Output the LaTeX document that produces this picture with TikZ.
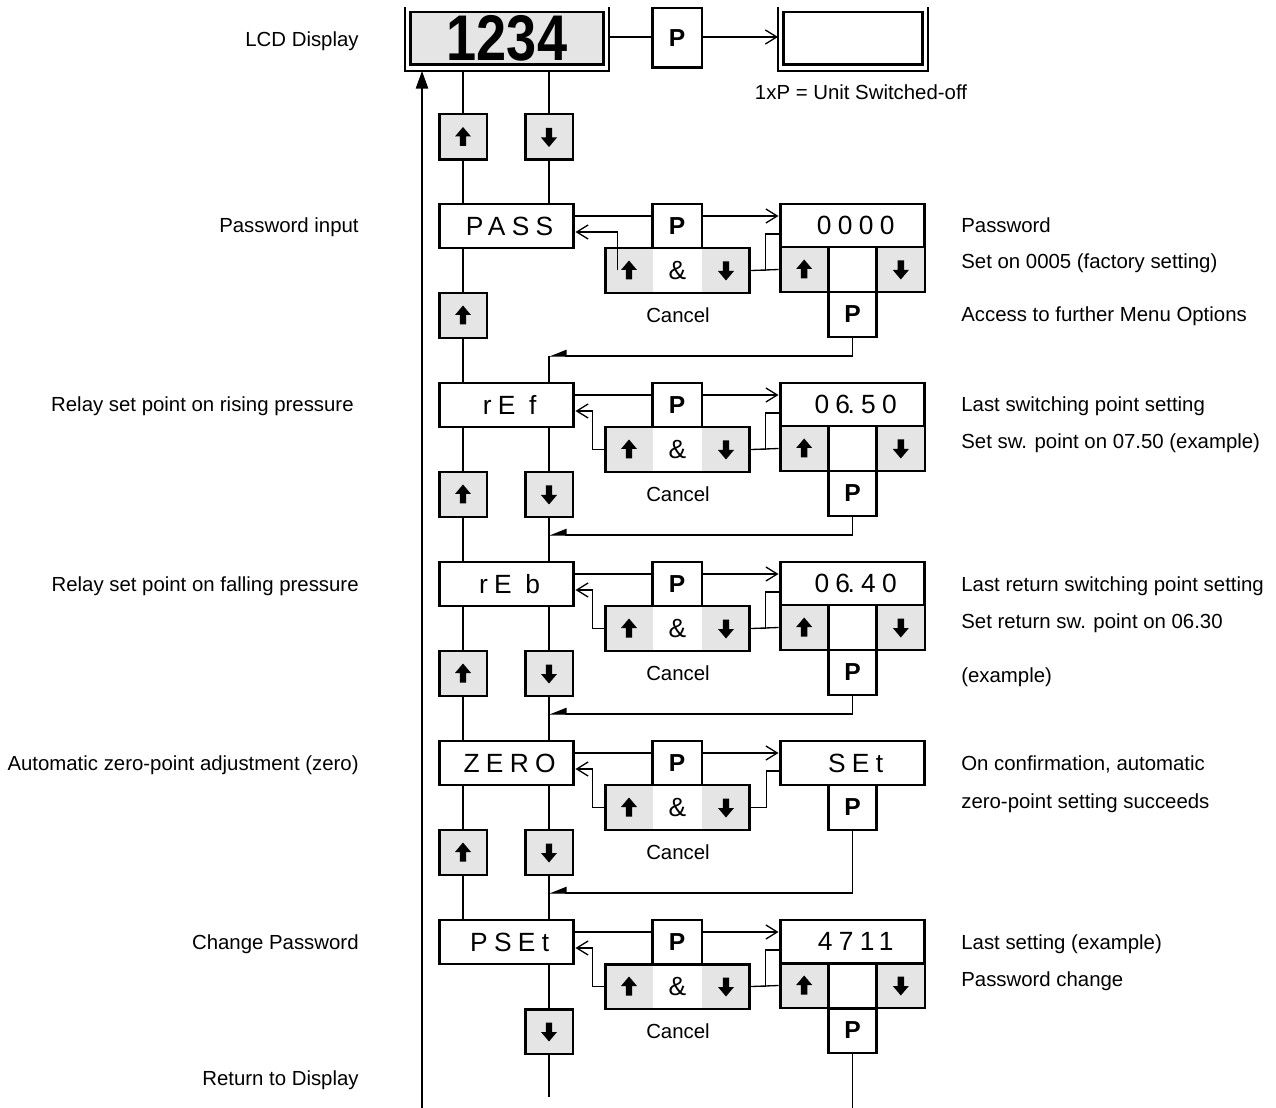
\documentclass[tikz,border=0pt]{standalone}
\usepackage{fontspec}
\setmainfont{Liberation Sans}
\newfontfamily\dispfont[LetterSpace=24]{Liberation Sans}
\usepackage{graphicx}
\usetikzlibrary{arrows.meta}
\definecolor{keygray}{gray}{0.9}
\tikzset{
  thickbox/.style={draw, line width=1.7pt, inner sep=0pt},
  dispbox/.style={thickbox, fill=white},
  keybox/.style={thickbox, fill=keygray},
  cellg/.style={fill=keygray, inner sep=0pt},
  pbox/.style={thickbox, fill=white, font=\fontsize{14}{16}\selectfont\bfseries},
  lbl/.style={inner sep=0pt, font=\fontsize{11.6}{14}\selectfont},
  conn/.style={line width=0.75pt},
  oarrow/.style={conn, -{Straight Barb[length=6.5pt,width=8pt]}},
  farrow/.style={conn, -{Triangle[harpoon,swap,length=9pt,width=7pt]}},
  retarrow/.style={line width=0.85pt, -{Triangle[length=10pt,width=7pt]}},
  uparr/.pic={\fill (0,-10) -- (8,-0.5) -- (3.2,-0.5) -- (3.2,9) -- (-3.2,9) -- (-3.2,-0.5) -- (-8,-0.5) -- cycle;},
  dnarr/.pic={\fill (0,10) -- (8,0.5) -- (3.2,0.5) -- (3.2,-9) -- (-3.2,-9) -- (-3.2,0.5) -- (-8,0.5) -- cycle;},
}
\newcommand\disptxt[1]{{\fontsize{15}{17}\dispfont #1\kern-0.24em}}
\newcommand\menurow[3]{%
\begin{scope}[shift={(0,#2)}]
 \node[dispbox, minimum width=2.7cm, minimum height=0.88cm] (#1L) at (506.5,22) {\disptxt{#3}};
 \node[cellg, minimum width=0.96cm, minimum height=0.9cm] (#1Au) at (629,66.5) {};
 \node[cellg, minimum width=0.96cm, minimum height=0.9cm] (#1Ad) at (726,66.5) {};
 \node[thickbox, minimum width=2.9cm, minimum height=0.9cm, font=\fontsize{15}{17}\selectfont] (#1A) at (677.5,66.5) {\&};
 \node[pbox, minimum width=1cm, minimum height=0.88cm] (#1P) at (677,22) {P};
 \pic at (#1Au) {uparr};
 \pic at (#1Ad) {dnarr};
 \node[lbl] (#1C) at (678,111) {Cancel};
 \coordinate (#1t) at (0,12);
 \coordinate (#1r) at (0,28);
 \coordinate (#1s) at (0,30);
 \coordinate (#1ret) at (549,152);
 \draw[conn] (#1L.east |- #1t) -- (#1P.west |- #1t);
\end{scope}}
\newcommand\rightbox[3]{%
\begin{scope}[shift={(0,#2)}]
 \node[dispbox, minimum width=2.9cm, minimum height=0.86cm] (#1R) at (852.5,21.5) {\disptxt{#3}};
 \node[keybox, minimum width=0.9667cm, minimum height=0.9cm] (#1Ru) at (804.17,65.5) {};
 \node[dispbox, minimum width=0.9667cm, minimum height=0.9cm] (#1Rm) at (852.5,65.5) {};
 \node[keybox, minimum width=0.9667cm, minimum height=0.9cm] (#1Rd) at (900.83,65.5) {};
 \node[pbox, minimum width=0.9667cm, minimum height=0.9cm] (#1RP) at (852.5,110.5) {P};
 \pic at (#1Ru) {uparr};
 \pic at (#1Rd) {dnarr};
 \draw[oarrow] (#1P.east |- #1t) -- (#1R.west |- #1t);
 \draw[conn] (#1A.east) -- (#1Ru.west);
 \draw[conn] (#1A.east) -- ++(14,0) |- (#1R.west |- #1s);
\end{scope}}
\begin{document}
\begin{tikzpicture}[x=0.02cm,y=-0.02cm]
\useasboundingbox (0,0) rectangle (1276,1108);
% ---------- top: LCD ----------
\node[keybox, minimum width=3.88cm, minimum height=1.06cm] (lcd) at (507,38.5) {\scalebox{0.88}[1.05]{\fontsize{35}{37}\selectfont\bfseries 1234}};
\draw[line width=1.7pt] (405,7) -- (405,71) -- (609,71) -- (609,7);
\coordinate (lcdfr) at (507,71);
\coordinate (lcdR) at (609,37);
\node[pbox, minimum width=1cm, minimum height=1.2cm] (ptop) at (677,38) {P};
\node[dispbox, minimum width=2.8cm, minimum height=1.06cm] (off) at (853,38.5) {};
\draw[line width=1.7pt] (778,7) -- (778,71) -- (928,71) -- (928,7);
\coordinate (offL) at (778,37);
\draw[conn] (lcdR) -- (ptop.west |- lcdR);
\draw[oarrow] (ptop.east |- offL) -- (offL);
\node[lbl, anchor=base] (offlbl) at (861,100) {1xP = Unit Switched-off};
% top keys
\node[keybox, minimum width=0.96cm, minimum height=0.92cm] (up0) at (463,137) {};
\node[keybox, minimum width=0.96cm, minimum height=0.92cm] (dn0) at (549,137) {};
\pic at (up0) {uparr};
\pic at (dn0) {dnarr};
% ---------- rows ----------
\menurow{a}{204}{PASS}
\menurow{b}{383}{rE f}
\menurow{c}{562}{rE b}
\menurow{d}{741}{ZERO}
\menurow{e}{920}{PSEt}
\rightbox{a}{204}{0000}
\rightbox{b}{383}{06\kern-0.1em.50}
\rightbox{c}{562}{06\kern-0.1em.40}
\rightbox{e}{920}{4711}
% ZERO right side
\node[dispbox, minimum width=2.9cm, minimum height=0.88cm] (dR) at (852.5,763) {\disptxt{SEt}};
\node[pbox, minimum width=0.9667cm, minimum height=0.9cm] (dRP) at (852.5,807.5) {P};
\draw[oarrow] (dP.east |- dt) -- (dR.west |- dt);
\draw[conn] (dA.east) -- ++(15,0) |- (dR.west |- ds);
% left returns
\draw[oarrow] ([xshift=0.26cm]aAu.west) |- (aL.east |- ar);
\foreach \r in {b,c,d,e}{
  \draw[oarrow] (\r A.west) -- ++(-11,0) |- (\r L.east |- \r r);
}
% column keys
\foreach \r/\yy in {a/315.5,b/494.5,c/673.5,d/852.5}{
  \node[keybox, minimum width=0.96cm, minimum height=0.9cm] (up\r) at (463,\yy) {};
  \pic at (up\r) {uparr};
}
\foreach \r/\yy in {b/494.5,c/673.5,d/852.5,e/1031.5}{
  \node[keybox, minimum width=0.96cm, minimum height=0.9cm] (dn\r) at (549,\yy) {};
  \pic at (dn\r) {dnarr};
}
% column connectors (up keys)
\draw[conn] (up0.north) -- (up0.north |- lcdfr);
\draw[conn] (dn0.north) -- (dn0.north |- lcdfr);
\draw[conn] (up0.south) -- (aL.north -| up0);
\draw[conn] (dn0.south) -- (aL.north -| dn0);
\draw[conn] (aL.south -| upa) -- (upa.north);
\draw[conn] (upa.south) -- (bL.north -| upa);
\draw[conn] (bL.south -| upb) -- (upb.north);
\draw[conn] (upb.south) -- (cL.north -| upb);
\draw[conn] (cL.south -| upc) -- (upc.north);
\draw[conn] (upc.south) -- (dL.north -| upc);
\draw[conn] (dL.south -| upd) -- (upd.north);
\draw[conn] (upd.south) -- (eL.north -| upd);
% column connectors (down keys)
\draw[conn] (aret) -- (bL.north -| aret);
\draw[conn] (bL.south -| dnb) -- (dnb.north);
\draw[conn] (dnb.south) -- (cL.north -| dnb);
\draw[conn] (cL.south -| dnc) -- (dnc.north);
\draw[conn] (dnc.south) -- (dL.north -| dnc);
\draw[conn] (dL.south -| dnd) -- (dnd.north);
\draw[conn] (dnd.south) -- (eL.north -| dnd);
\draw[conn] (eL.south -| dne) -- (dne.north);
\coordinate (dnend) at (549,1097);
\draw[conn] (dne.south) -- (dnend);
% P returns
\draw[farrow] (aRP.south) |- (aret);
\draw[farrow] (bRP.south) |- (bret);
\draw[farrow] (cRP.south) |- (cret);
\draw[farrow] (dRP.south) |- (dret);
\coordinate (ebot) at (852.5,1108);
\draw[conn] (eRP.south) -- (ebot);
% return to display
\coordinate (retb) at (422,1108);
\draw[retarrow] (retb) -- (retb |- lcdfr);
% ---------- left labels ----------
\node[lbl, anchor=base east] (l1) at (359,47) {LCD Display};
\node[lbl, anchor=base east] (l2) at (359,233) {Password input};
\node[lbl, anchor=base east] (l3) at (354,412) {Relay set point on rising pressure};
\node[lbl, anchor=base east] (l4) at (359,591) {Relay set point on falling pressure};
\node[lbl, anchor=base east] (l5) at (359,770) {Automatic zero-point adjustment (zero)};
\node[lbl, anchor=base east] (l6) at (359,949) {Change Password};
\node[lbl, anchor=base east] (l7) at (359,1085) {Return to Display};
% ---------- right labels ----------
\node[lbl, anchor=base west] (r1) at (961,233) {Password};
\node[lbl, anchor=base west] (r2) at (961,269) {Set on 0005 (factory setting)};
\node[lbl, anchor=base west] (r3) at (961,322) {Access to further Menu Options};
\node[lbl, anchor=base west] (r4) at (961,412) {Last switching point setting};
\node[lbl, anchor=base west] (r5) at (961,449) {Set sw. point on 07.50 (example)};
\node[lbl, anchor=base west] (r6) at (961,591) {Last return switching point setting};
\node[lbl, anchor=base west] (r7) at (961,628) {Set return sw. point on 06.30};
\node[lbl, anchor=base west] (r8) at (961,682) {(example)};
\node[lbl, anchor=base west] (r9) at (961,770) {On confirmation, automatic};
\node[lbl, anchor=base west] (r10) at (961,808) {zero-point setting succeeds};
\node[lbl, anchor=base west] (r11) at (961,949) {Last setting (example)};
\node[lbl, anchor=base west] (r12) at (961,986) {Password change};
\end{tikzpicture}
\end{document}
